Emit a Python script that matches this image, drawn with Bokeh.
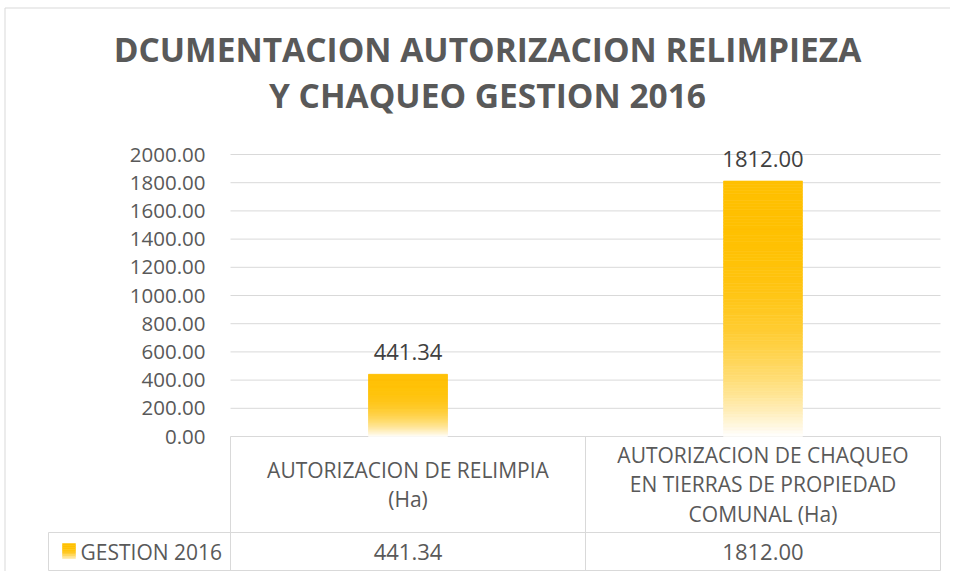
from bokeh.plotting import figure
from bokeh.models import Range1d, LinearAxis, FixedTicker, PrintfTickFormatter
from bokeh.core.properties import value
from bokeh.embed import file_html
from bokeh.resources import INLINE

# ---------------- data ----------------
title_lines = ["DCUMENTACION AUTORIZACION RELIMPIEZA", "Y CHAQUEO GESTION 2016"]
categories = [
    "AUTORIZACION DE RELIMPIA\n(Ha)",
    "AUTORIZACION DE CHAQUEO\nEN TIERRAS DE PROPIEDAD\nCOMUNAL (Ha)",
]
series_name = "GESTION 2016"
values = [441.34, 1812.00]
y_ticks = [0, 200, 400, 600, 800, 1000, 1200, 1400, 1600, 1800, 2000]

# ---------------- layout constants ----------------
W, H = 950, 571
X0_PX = 230          # x of category boundary 0
CAT_PX = 355         # px per category
Y0_PX = 436          # y of value 0
Y_TOP_PX = 154       # y of value 2000
UPP = (y_ticks[-1] - y_ticks[0]) / (Y0_PX - Y_TOP_PX)  # units per px

FONT = value("Open Sans")
GRAY = "#595959"
LINE = "#d9d9d9"
GOLD = (255, 192, 0)


def px_to_x(px):
    return (px - X0_PX) / CAT_PX


def mix(c, w):
    r = [round(c[i] + (255 - c[i]) * w) for i in range(3)]
    return "#%02x%02x%02x" % tuple(r)


p = figure(
    width=W, height=H,
    x_range=Range1d(px_to_x(0), px_to_x(W)),
    y_range=Range1d(-(H - Y0_PX) * UPP, Y0_PX * UPP),
    x_axis_location=None, y_axis_location=None,
    toolbar_location=None, output_backend="svg",
    min_border=0,
)
p.extra_x_ranges = {"px": Range1d(0, W)}
p.extra_y_ranges = {"px": Range1d(H, 0)}
p.grid.visible = False
p.outline_line_color = None
p.background_fill_color = "white"
p.border_fill_color = "white"

# y axis placed at the left edge of the category area
yaxis = LinearAxis(
    fixed_location=0,
    ticker=FixedTicker(ticks=y_ticks),
    formatter=PrintfTickFormatter(format="%.2f"),
    axis_line_color=None, major_tick_line_color=None, minor_tick_line_color=None,
    major_tick_in=0, major_tick_out=0,
    major_label_standoff=25,
    major_label_text_font="Open Sans",
    major_label_text_font_size="20.5px",
    major_label_text_color=GRAY,
)
p.add_layout(yaxis, "left")

n = len(categories)
cx = [i + 0.5 for i in range(n)]

# gridlines (also the table's top line at 0)
p.segment(x0=[0] * len(y_ticks), x1=[n] * len(y_ticks), y0=y_ticks, y1=y_ticks,
          line_color=LINE, line_width=1)

# gradient bars as thin stacked slices
N = 80
bx, bb, bt, bc = [], [], [], []
for i, v in enumerate(values):
    for k in range(N):
        frac_from_top = 1 - (k + 0.5) / N
        col = mix(GOLD, frac_from_top ** 3)
        bx.append(cx[i])
        bb.append(v * k / N)
        bt.append(v * (k + 1) / N)
        bc.append(col)
p.vbar(x=bx, bottom=bb, top=bt, width=79 / CAT_PX, fill_color=bc,
       line_color=bc, line_width=0.6)

# data labels
p.text(x=cx, y=values, text=["%.2f" % v for v in values],
       text_align="center", text_baseline="middle", y_offset=-22,
       text_font=FONT, text_font_size="22px", text_color="#404040")

# ---------------- data table ----------------
tbl_left = px_to_x(48)
tbl_top_px, tbl_row_px, tbl_bot_px = Y0_PX, 532, 570
# vertical lines at category boundaries
p.segment(x0=list(range(n + 1)), x1=list(range(n + 1)),
          y0=[tbl_top_px] * (n + 1), y1=[tbl_bot_px] * (n + 1),
          y_range_name="px", line_color=LINE, line_width=1)
p.segment(x0=[tbl_left], x1=[tbl_left], y0=[tbl_row_px], y1=[tbl_bot_px],
          y_range_name="px", line_color=LINE, line_width=1)
p.segment(x0=[tbl_left, tbl_left], x1=[n, n], y0=[tbl_row_px, tbl_bot_px],
          y1=[tbl_row_px, tbl_bot_px], y_range_name="px", line_color=LINE, line_width=1)

# header text
p.text(x=cx, y=[(tbl_top_px + tbl_row_px) / 2] * n, text=categories,
       y_range_name="px", text_align="center", text_baseline="middle",
       text_line_height=1.05, text_font=FONT, text_font_size="21px", text_color=GRAY)
# value row
row_y = 551
p.text(x=cx, y=[row_y] * n, text=["%.2f" % v for v in values], y_range_name="px",
       text_align="center", text_baseline="middle",
       text_font=FONT, text_font_size="22px", text_color=GRAY)
p.text(x=[80], y=[row_y], text=[series_name], x_range_name="px", y_range_name="px",
       text_align="left", text_baseline="middle",
       text_font=FONT, text_font_size="21px", text_color=GRAY)
# legend key (small gradient square)
K = 8
kb, kt, kc = [], [], []
for k in range(K):
    kb.append(543 + 15 * k / K)
    kt.append(543 + 15 * (k + 1) / K)
    kc.append(mix(GOLD, (k / K) ** 3 * 0.9))
p.quad(left=[62] * K, right=[75] * K, bottom=kb, top=kt, fill_color=kc, line_color=kc,
       line_width=0.5, x_range_name="px", y_range_name="px")

# chart border (left/top)
p.segment(x0=[4.5, 4.5], x1=[4.5, W], y0=[7.5, 7.5], y1=[H, 7.5],
          x_range_name="px", y_range_name="px", line_color=LINE, line_width=1)

# title
p.text(x=[487, 487], y=[48.5, 94.5], text=title_lines, x_range_name="px", y_range_name="px",
       text_align="center", text_baseline="middle", text_font=FONT,
       text_font_style="bold", text_font_size="33.5px", text_color=GRAY)

open("out.html", "w").write(file_html(p, INLINE))
